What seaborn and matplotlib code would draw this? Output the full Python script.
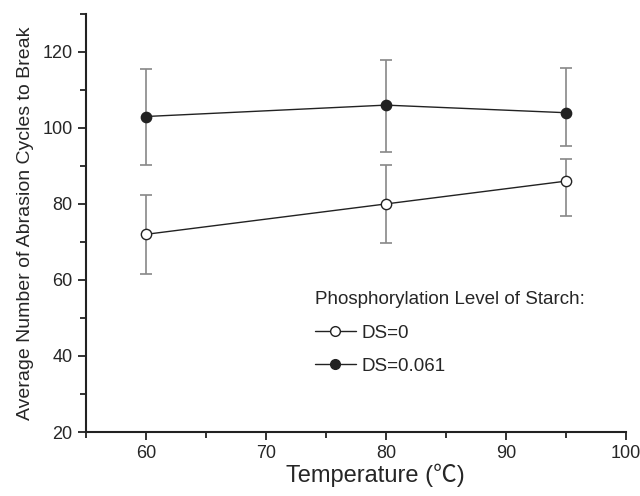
import numpy as np
import pandas as pd
import matplotlib
matplotlib.use("Agg")
import matplotlib.pyplot as plt
from matplotlib.ticker import MultipleLocator
from matplotlib.lines import Line2D
import seaborn as sns

# data
temperature = [60, 80, 95]
ds0_mean = [72, 80, 86]
ds0_low = [61.5, 69.7, 76.7]
ds0_high = [82.4, 90.3, 91.9]
ds061_mean = [103, 106, 104]
ds061_low = [90.2, 93.7, 95.3]
ds061_high = [115.5, 118.0, 115.8]
series_names = ["DS=0", "DS=0.061"]

sns.set_theme(style="ticks")
plt.rcParams['font.family'] = ['Liberation Sans', 'Noto Sans CJK SC', 'DejaVu Sans']

df = pd.DataFrame({
    "temp": temperature * 2,
    "mean": ds0_mean + ds061_mean,
    "low": ds0_low + ds061_low,
    "high": ds0_high + ds061_high,
    "series": [series_names[0]] * 3 + [series_names[1]] * 3,
})

fig = plt.figure(figsize=(6.4, 4.96), dpi=100)
ax = fig.add_axes([0.134, 0.129, 0.844, 0.843])

face = {"DS=0": "white", "DS=0.061": "#222222"}
for name in series_names:
    d = df[df["series"] == name]
    ax.errorbar(d["temp"], d["mean"],
                yerr=[d["mean"] - d["low"], d["high"] - d["mean"]],
                fmt="none", ecolor="#888888", elinewidth=1.2, capsize=4,
                capthick=1.2, zorder=2)
    sns.lineplot(data=d, x="temp", y="mean", ax=ax, color="#222222",
                 linewidth=1.0, zorder=3, legend=False)
    sns.scatterplot(data=d, x="temp", y="mean", ax=ax, s=55,
                    color=face[name], edgecolor="#222222", linewidth=1.0,
                    zorder=4, legend=False)

ax.set_xlim(55, 100)
ax.set_ylim(20, 130)
ax.xaxis.set_major_locator(MultipleLocator(10))
ax.xaxis.set_minor_locator(MultipleLocator(5))
ax.yaxis.set_minor_locator(MultipleLocator(10))
ax.set_yticks([20, 40, 60, 80, 100, 120])
ax.tick_params(which="major", direction="out", length=6, width=1.3,
               labelsize=13, color="#222222")
ax.tick_params(which="minor", direction="out", length=4, width=1.3,
               color="#222222")
for side in ["top", "right"]:
    ax.spines[side].set_visible(False)
for side in ["left", "bottom"]:
    ax.spines[side].set_linewidth(1.5)
    ax.spines[side].set_color("#222222")

ax.set_xlabel("Temperature (℃)", fontsize=17)
ax.xaxis.set_label_coords(0.537, -0.075)
ax.set_ylabel("Average Number of Abrasion Cycles to Break", fontsize=14,
              labelpad=6)

handles = [
    Line2D([], [], color="#222222", linewidth=1.0, marker="o",
           markersize=7, markerfacecolor=face[n], markeredgecolor="#222222")
    for n in series_names
]
leg = ax.legend(handles, series_names, title="Phosphorylation Level of Starch:",
                loc="upper left", bbox_to_anchor=(0.41, 0.355), frameon=False,
                fontsize=13.5, title_fontsize=13.5, handlelength=2.2,
                handletextpad=0.3, labelspacing=0.85, borderaxespad=0)
leg._legend_box.align = "left"
leg._legend_box.sep = 12

fig.savefig("out.png", dpi=100)
